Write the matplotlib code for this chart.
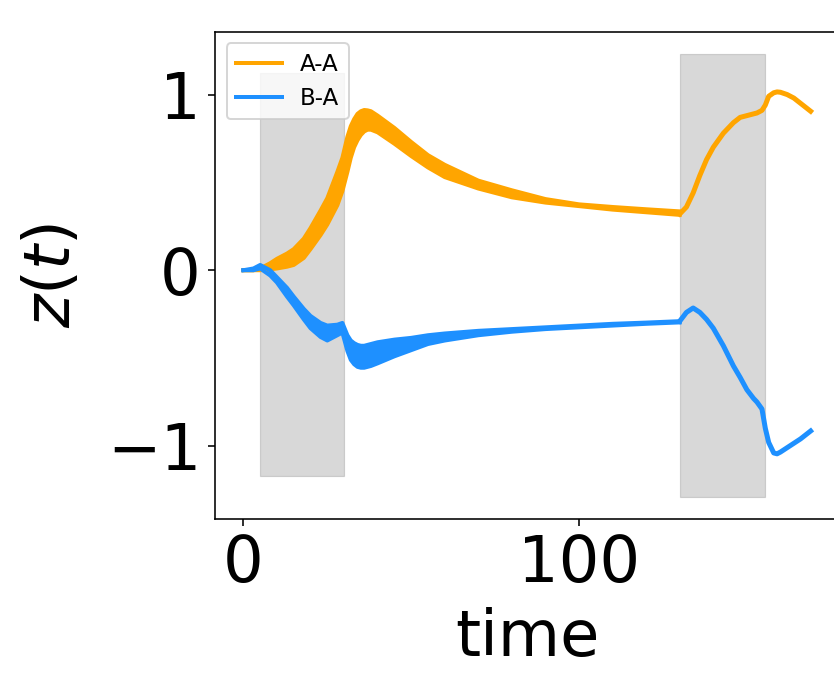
import numpy as np
import matplotlib
matplotlib.use('Agg')
import matplotlib.pyplot as plt
from matplotlib.ticker import MultipleLocator

# bundle of trajectories (upper / lower edge of each band)
t_bundle = [0, 3, 5, 8, 10, 13, 15, 18, 20, 23, 25, 28, 29.5, 31, 32, 33, 34, 35, 36,
            37, 38, 40, 45, 50, 55, 60, 70, 80, 90, 100, 110, 120, 130]
aa_upper = [0, 0, 0.01, 0.04, 0.065, 0.095, 0.12, 0.18, 0.24, 0.34, 0.41, 0.56, 0.64,
            0.76, 0.82, 0.86, 0.89, 0.905, 0.912, 0.91, 0.905, 0.88, 0.81, 0.73,
            0.655, 0.60, 0.51, 0.455, 0.405, 0.375, 0.36, 0.347, 0.335]
aa_lower = [0, 0, 0, 0.005, 0.01, 0.02, 0.03, 0.07, 0.12, 0.20, 0.26, 0.37, 0.45,
            0.56, 0.64, 0.70, 0.74, 0.77, 0.79, 0.80, 0.80, 0.785, 0.72, 0.65, 0.585,
            0.53, 0.465, 0.415, 0.385, 0.365, 0.345, 0.33, 0.315]
ba_upper = [0, 0.01, 0.03, 0.0, -0.04, -0.10, -0.15, -0.22, -0.26, -0.30, -0.315,
            -0.31, -0.30, -0.37, -0.40, -0.415, -0.425, -0.43, -0.43, -0.425, -0.42,
            -0.41, -0.395, -0.385, -0.37, -0.36, -0.345, -0.335, -0.325, -0.315,
            -0.305, -0.298, -0.29]
ba_lower = [0, 0, 0.01, -0.03, -0.07, -0.15, -0.20, -0.28, -0.33, -0.38, -0.40,
            -0.37, -0.355, -0.46, -0.51, -0.535, -0.55, -0.555, -0.555, -0.55, -0.545,
            -0.53, -0.49, -0.455, -0.42, -0.40, -0.37, -0.35, -0.335, -0.325, -0.315,
            -0.305, -0.297]

# after t=130 the trajectories coincide
t_tail = [130, 132, 134, 136, 138, 140, 143, 146, 148, 150, 152, 153, 154.5, 155.5,
          156.5, 158, 159, 160, 162, 164, 166, 169]
aa_tail = [0.32, 0.36, 0.44, 0.54, 0.63, 0.70, 0.78, 0.84, 0.87, 0.88, 0.89, 0.895,
           0.91, 0.94, 0.99, 1.01, 1.015, 1.013, 1.0, 0.98, 0.95, 0.905]
ba_tail = [-0.29, -0.24, -0.215, -0.24, -0.28, -0.33, -0.43, -0.545, -0.61, -0.68,
           -0.73, -0.75, -0.79, -0.90, -0.98, -1.04, -1.045, -1.035, -1.01, -0.985,
           -0.96, -0.915]

# shaded intervals: (t_start, t_end, y_low, y_high)
shade_t0 = [5, 130]
shade_t1 = [30, 155.5]
shade_lo = [-1.17, -1.29]
shade_hi = [1.12, 1.23]

fig = plt.figure(figsize=(834 / 144, 673 / 144), dpi=144)
ax = fig.add_axes([215 / 834, 154 / 673, 624 / 834, 487 / 673])

for a, b, lo, hi in zip(shade_t0, shade_t1, shade_lo, shade_hi):
    ax.fill_between([a, b], [lo, lo], [hi, hi], color='gray', alpha=0.3, lw=0.6)

for up, low, tail, col, lab in [(aa_upper, aa_lower, aa_tail, 'orange', 'A-A'),
                                (ba_upper, ba_lower, ba_tail, 'dodgerblue', 'B-A')]:
    ax.fill_between(t_bundle, low, up, color=col, lw=0)
    ax.plot(t_bundle, up, color=col, lw=2, label=lab)
    ax.plot(t_bundle, low, color=col, lw=2)
    ax.plot(t_tail, tail, color=col, lw=2.5)

ax.xaxis.set_major_locator(MultipleLocator(100))
ax.yaxis.set_major_locator(MultipleLocator(1))
ax.tick_params(labelsize=32)
ax.set_xlabel('time', fontsize=32, labelpad=6)
ax.set_ylabel(r'$z(t)$', fontsize=32, labelpad=12)
ax.legend(loc='upper left', fontsize=11.5)

fig.savefig('out.png', dpi=144)
